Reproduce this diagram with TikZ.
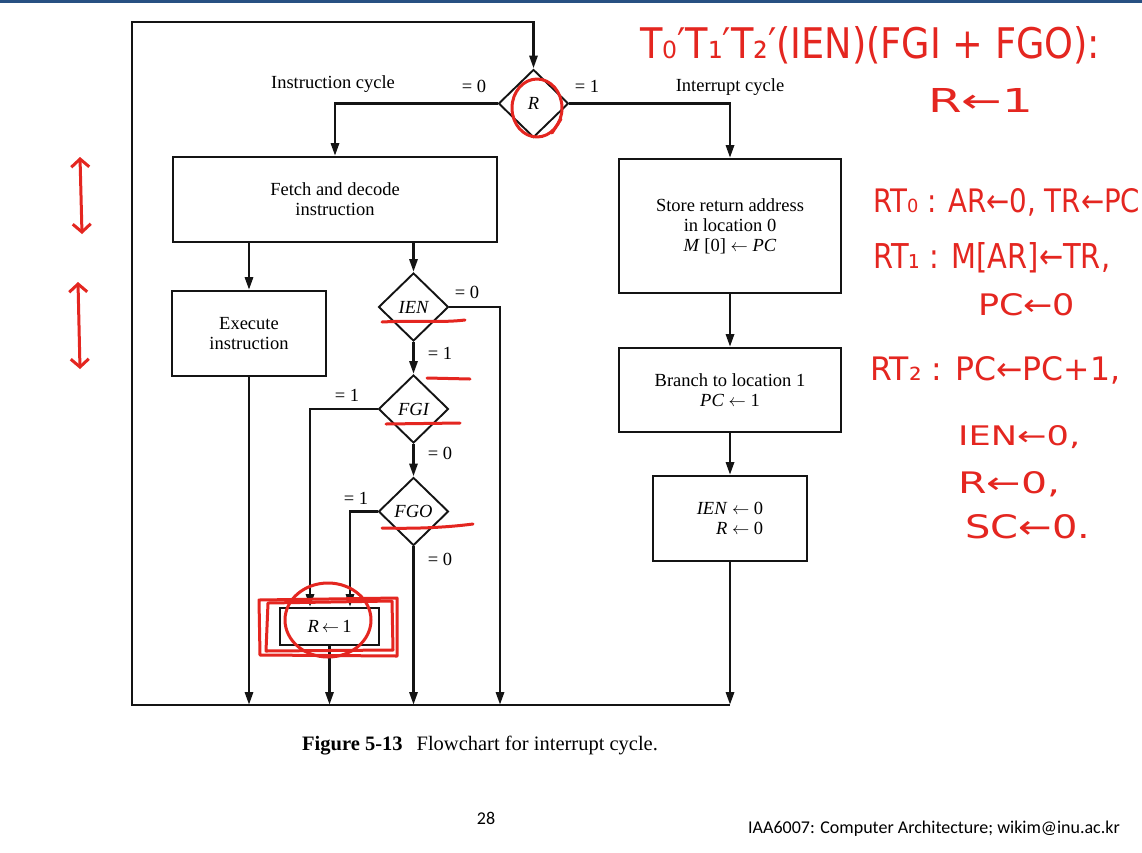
\documentclass[tikz,border=0pt]{standalone}
\usepackage{graphicx}
\usepackage{fontspec}
\setmainfont{Liberation Serif}
\newfontfamily\hand{DejaVu Sans}
\newfontfamily\footfont{Carlito}
\usetikzlibrary{arrows.meta,shapes.geometric}
\definecolor{ink}{RGB}{20,20,20}
\definecolor{pen}{RGB}{228,38,32}
\definecolor{slideblue}{RGB}{40,80,130}
\newcommand{\fsz}{\fontsize{18.5}{20}\selectfont}
\newcommand{\hw}[3]{\resizebox{#1}{#2}{\hand #3}}
\tikzset{
 box/.style={draw=ink, line width=1.9pt, rectangle, inner sep=0pt, align=center, font=\fsz},
 dec/.style={draw=ink, line width=1.9pt, diamond, inner sep=0pt, minimum width=70pt, minimum height=68pt, font=\fsz\itshape},
 flow/.style={draw=ink, line width=2.9pt, -{Triangle[length=13pt,width=8pt]}},
 lbl/.style={font=\fsz, inner sep=0pt},
 pen/.style={draw=pen, line width=3pt, line cap=round, line join=round},
 note/.style={text=pen, inner sep=0pt, anchor=west},
 dbl/.style={{Straight Barb[length=8pt,width=18pt]}-{Straight Barb[length=8pt,width=18pt]}},
}
\begin{document}
\begin{tikzpicture}[x=1pt,y=-1pt]
\useasboundingbox (0,0) rectangle (1142,852);
\fill[white] (0,0) rectangle (1142,852);
\fill[slideblue] (0,0) rectangle (1142,2.5);

% nodes
\node[dec] (R) at (533.5,103.5) {R};
\node[dec] (ien) at (413.5,307) {IEN};
\node[dec] (fgi) at (413.5,409) {FGI};
\node[dec] (fgo) at (413.5,511.5) {FGO};
\node[box, minimum width=324pt, minimum height=85pt] (fetch) at (335,199.5) {Fetch and decode\\instruction};
\node[box, minimum width=154pt, minimum height=85pt] (exec) at (249,333.5) {Execute\\instruction};
\node[box, minimum width=99pt, minimum height=37pt] (rset) at (329.5,626.5) {\textit{R}\,$\leftarrow$\,1};
\node[box, minimum width=222pt, minimum height=134pt] (store) at (730,226) {Store return address\\in location 0\\\textit{M} [0] $\leftarrow$ \textit{PC}};
\node[box, minimum width=222pt, minimum height=84pt] (branch) at (730,390) {Branch to location 1\\\textit{PC} $\leftarrow$ 1};
\node[box, minimum width=154pt, minimum height=85pt, align=right] (clr) at (730,518.5) {\textit{IEN} $\leftarrow$ 0\\\textit{R} $\leftarrow$ 0};

% loop coordinates
\coordinate (tl) at (132,22);
\coordinate (tr) at (533.5,22);
\coordinate (bl) at (132,705);
\coordinate (br) at (730,705);
\coordinate (j0) at (335,103.5);
\coordinate (j1) at (730,103.5);
\coordinate (j2) at (500,307);
\coordinate (j3) at (310,409);
\coordinate (j4) at (350,511.5);

% connectors
\draw[flow] (br) -- (bl) -- (tl) -- (tr) -- (R.north);
\draw[flow] (R.west) -- (j0) -- (fetch.north);
\draw[flow] (R.east) -- (j1) -- (store.north);
\draw[flow] (fetch.south -| exec.north) -- (exec.north);
\draw[flow] (fetch.south -| ien.north) -- (ien.north);
\draw[flow] (ien.east) -- (j2) -- (j2 |- bl);
\draw[flow] (ien.south) -- (fgi.north);
\draw[flow] (fgi.west) -- (j3) -- (j3 |- rset.north);
\draw[flow] (fgi.south) -- (fgo.north);
\draw[flow] (fgo.west) -- (j4) -- (j4 |- rset.north);
\draw[flow] (fgo.south) -- (fgo.south |- bl);
\draw[flow] (rset.south) -- (rset.south |- bl);
\draw[flow] (exec.south) -- (exec.south |- bl);
\draw[flow] (store.south) -- (branch.north);
\draw[flow] (branch.south) -- (clr.north);
\draw[flow] (clr.south) -- (br);

% labels
\node[lbl] (tic) at (333,84) {Instruction cycle};
\node[lbl] (tir) at (730,87) {Interrupt cycle};
\node[lbl] (r0) at (474,86) {= 0};
\node[lbl] (r1) at (587,86) {= 1};
\node[lbl] (i0) at (467,292) {= 0};
\node[lbl] (i1) at (440,353) {= 1};
\node[lbl] (g1) at (347,395) {= 1};
\node[lbl] (g0) at (440,453) {= 0};
\node[lbl] (o1) at (356,498) {= 1};
\node[lbl] (o0) at (440,559) {= 0};

% caption and footer
\node[anchor=base west, inner sep=0pt, font=\fontsize{20.5}{22}\selectfont] (cap) at (302,750) {\textbf{Figure 5-13}\hspace{14pt}Flowchart for interrupt cycle.};
\node[inner sep=0pt, font=\footfont\fontsize{18}{20}\selectfont] (pg) at (486,818) {28};
\node[anchor=west, inner sep=0pt, font=\footfont\fontsize{18}{20}\selectfont] (ft) at (748,829) {IAA6007: Computer Architecture; wikim@inu.ac.kr};

% red handwritten notes
\node[note] (n1) at (640,45) {\hw{460pt}{32pt}{T₀′T₁′T₂′(IEN)(FGI + FGO):}};
\node[note] (n2) at (928,100) {\hw{105pt}{24pt}{R←1}};
\node[note] (n3) at (873,202) {\hw{267pt}{24pt}{RT₀ : AR←0, TR←PC}};
\node[note] (n4) at (873,258) {\hw{237pt}{26pt}{RT₁ : M[AR]←TR,}};
\node[note] (n5) at (978,305) {\hw{97pt}{22pt}{PC←0}};
\node[note] (n6) at (870,370) {\hw{250pt}{24pt}{RT₂ : PC←PC+1,}};
\node[note] (n7) at (958,437) {\hw{122pt}{20pt}{IEN←0,}};
\node[note] (n8) at (958,484) {\hw{102pt}{22pt}{R←0,}};
\node[note] (n9) at (965,527) {\hw{125pt}{24pt}{SC←0.}};

% red marks
\draw[pen] (537,108) ellipse [x radius=25, y radius=29];
\draw[pen] (552,133) -- (561,119);
\draw[pen] (382,322) .. controls (420,320) and (440,323) .. (465,320);
\draw[pen] (427,378) -- (470,379);
\draw[pen] (386,424) -- (460,423);
\draw[pen] (382,528) .. controls (420,529) and (450,527) .. (473,524);
\draw[pen] (259,600) -- (397,598) -- (397,656) -- (260,655) -- cycle;
\draw[pen] (268,603) -- (392,601) -- (393,650) -- (266,651) -- cycle;
\draw[pen] (328,620) ellipse [x radius=43, y radius=37];
\draw[pen, dbl] (80,157) -- (82,234);
\draw[pen, dbl] (78,282) -- (80,369);
\end{tikzpicture}
\end{document}
